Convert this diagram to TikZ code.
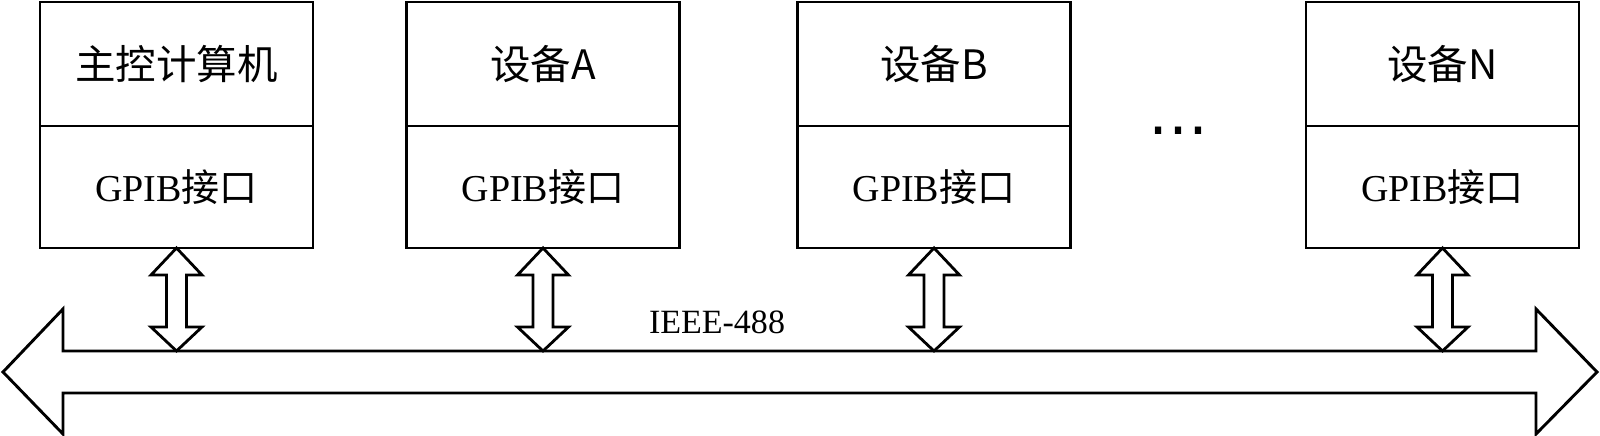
\documentclass[tikz,border=0pt]{standalone}
\usepackage{fontspec}
\setmainfont{Liberation Serif}
\newfontfamily\cjk{Noto Sans CJK SC}
\newfontfamily\dejavu{DejaVu Sans}
\usetikzlibrary{calc}
\tikzset{
  devbox/.style={draw, line width=2.9pt, minimum width=273pt, inner sep=0pt, outer sep=0pt, anchor=north, fill=white},
  toppart/.style={devbox, minimum height=124pt, font=\cjk\fontsize{40.5pt}{44pt}\selectfont},
  botpart/.style={devbox, minimum height=122pt, font=\fontsize{38pt}{42pt}\selectfont},
  conn/.style={draw, line width=2.8pt, fill=white, line join=miter},
  busline/.style={draw, line width=2.9pt, fill=white, line join=miter},
}
\newcommand\gpibarrow[2]{%
  \draw[conn] let \p1=(#1), \p2=(#2) in
    (\p1) -- ++(25.5,27) -- ++(-15.5,0) -- (\x1+10pt,\y2+24pt) -- ++(15.5,0)
    -- (\p2) -- ++(-25.5,-24) -- ++(15.5,0) -- (\x1-10pt,\y1-27pt) -- ++(-15.5,0) -- cycle;}
\begin{document}
\begin{tikzpicture}[x=1pt,y=-1pt]
\useasboundingbox (0,0) rectangle (1600,436);
% bus
\coordinate (busLtip) at (3,372);
\coordinate (busRtip) at (1597,372);
\draw[busline] (busLtip) -- (63,309) -- (63,351) -- (1536,351) -- (1536,309) -- (busRtip)
  -- (1536,434) -- (1536,393) -- (63,393) -- (63,434) -- cycle;
\node[font=\fontsize{34pt}{38pt}\selectfont, inner sep=0pt] (ieee) at (717,322) {IEEE-488};
% boxes
\node[toppart] (t1) at (176.5,2) {主控计算机};
\node[botpart] (g1) at (t1.south) {GPIB{\cjk 接口}};
\node[toppart] (t2) at (543,2) {设备A};
\node[botpart] (g2) at (t2.south) {GPIB{\cjk 接口}};
\node[toppart] (t3) at (934,2) {设备B};
\node[botpart] (g3) at (t3.south) {GPIB{\cjk 接口}};
\node[toppart] (t4) at (1442.5,2) {设备N};
\node[botpart] (g4) at (t4.south) {GPIB{\cjk 接口}};
\node[font=\dejavu\fontsize{60pt}{64pt}\selectfont, inner sep=0pt, anchor=base] (dots) at (1178,134) {…};
% bus attachment points
\coordinate (b1) at (176.5,351);
\coordinate (b2) at (543,351);
\coordinate (b3) at (934,351);
\coordinate (b4) at (1442.5,351);
\gpibarrow{g1.south}{b1}
\gpibarrow{g2.south}{b2}
\gpibarrow{g3.south}{b3}
\gpibarrow{g4.south}{b4}
\end{tikzpicture}
\end{document}
